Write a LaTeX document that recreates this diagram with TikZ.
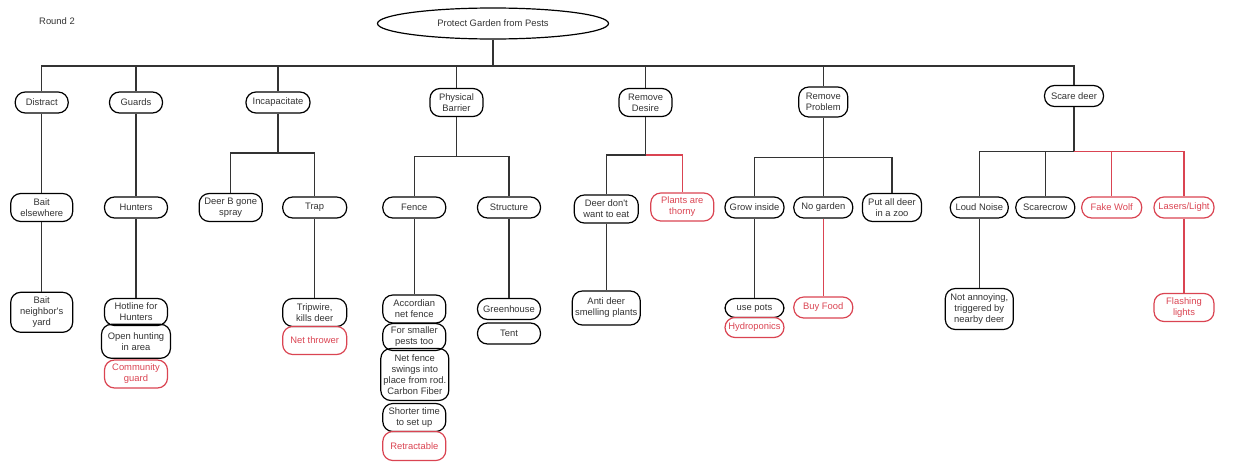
\documentclass[tikz,border=0pt]{standalone}
\usepackage{fontspec}
\usepackage{tikz}
\usetikzlibrary{shapes.geometric}
\newfontfamily\ideafont{Liberation Sans}
\definecolor{inktext}{RGB}{51,51,51}
\definecolor{newred}{RGB}{218,68,82}

\tikzset{
  idea/.style={draw=black, line width=1.2pt, rounded corners=10pt, align=center,
    inner sep=1pt, text=inktext, font=\ideafont\fontsize{9.4}{11}\selectfont},
  newidea/.style={idea, draw=newred, text=newred},
  link/.style={draw=inktext, line width=1.1pt},
  newlink/.style={draw=newred, line width=1.1pt}
}

\begin{document}
\begin{tikzpicture}[x=1pt, y=-1pt]
  \useasboundingbox (0,0) rectangle (1259,466);
  \node[font=\ideafont\fontsize{9.4}{11}\selectfont, text=inktext] (round) at (57,21) {Round 2};
  \node[idea, ellipse, rounded corners=0pt, minimum width=231, minimum height=31, inner sep=0pt] (root) at (493,23.5) {Protect Garden from Pests};

  % first level
  \node[idea, minimum width=53, minimum height=21] (distract) at (41.7,102.5) {Distract};
  \node[idea, minimum width=53, minimum height=21] (guards) at (136,102.5) {Guards};
  \node[idea, minimum width=64, minimum height=21] (incap) at (278,102.5) {Incapacitate};
  \node[idea, minimum width=53, minimum height=28] (barrier) at (456.5,102.5) {Physical\\Barrier};
  \node[idea, minimum width=53, minimum height=28] (desire) at (645.5,102.5) {Remove\\Desire};
  \node[idea, minimum width=49, minimum height=30] (problem) at (823.3,102) {Remove\\Problem};
  \node[idea, minimum width=59, minimum height=21] (scare) at (1074,96) {Scare deer};

  % second level
  \node[idea, minimum width=62, minimum height=28] (baitelse) at (41.7,207.5) {Bait\\elsewhere};
  \node[idea, minimum width=63, minimum height=21] (hunters) at (136,207.5) {Hunters};
  \node[idea, minimum width=63, minimum height=28] (deerb) at (230.7,207.5) {Deer B gone\\spray};
  \node[idea, minimum width=64, minimum height=21] (trap) at (314.7,207.5) {Trap};
  \node[idea, minimum width=63, minimum height=21] (fence) at (414.3,207.5) {Fence};
  \node[idea, minimum width=63, minimum height=21] (structure) at (509,207.5) {Structure};
  \node[idea, minimum width=64, minimum height=28] (noeat) at (606.3,209) {Deer don't\\want to eat};
  \node[newidea, minimum width=63, minimum height=28] (thorny) at (682.3,207) {Plants are\\thorny};
  \node[idea, minimum width=59, minimum height=21] (growin) at (754.5,207.5) {Grow inside};
  \node[idea, minimum width=59, minimum height=21] (nogarden) at (823.3,207.5) {No garden};
  \node[idea, minimum width=59, minimum height=28] (zoo) at (892,207.5) {Put all deer\\in a zoo};
  \node[idea, minimum width=58, minimum height=21] (loud) at (979.3,207.5) {Loud Noise};
  \node[idea, minimum width=59, minimum height=21] (scarecrow) at (1045.3,207.5) {Scarecrow};
  \node[newidea, minimum width=60, minimum height=21] (wolf) at (1111.7,207.5) {Fake Wolf};
  \node[newidea, minimum width=60, minimum height=21] (lasers) at (1184,207.5) {Lasers/Light};

  % third level
  \node[idea, minimum width=62, minimum height=40] (baityard) at (41.7,312.3) {Bait\\neighbor's\\yard};
  \node[idea, minimum width=63, minimum height=27] (hotline) at (136,312) {Hotline for\\Hunters};
  \node[idea, minimum width=69, minimum height=34] (openhunt) at (136,341.3) {Open hunting\\in area};
  \node[newidea, minimum width=63, minimum height=28] (community) at (136,374) {Community\\guard};
  \node[idea, minimum width=64, minimum height=28] (tripwire) at (314.7,312.5) {Tripwire,\\kills deer};
  \node[newidea, minimum width=64, minimum height=28] (netthrow) at (314.7,340.5) {Net thrower};
  \node[idea, minimum width=63, minimum height=28] (accordian) at (414.3,309) {Accordian\\net fence};
  \node[idea, minimum width=63, minimum height=27] (smaller) at (414.3,337) {For smaller\\pests too};
  \node[idea, minimum width=68, minimum height=52] (netswing) at (414.8,374.5) {Net fence\\swings into\\place from rod.\\Carbon Fiber};
  \node[idea, minimum width=63, minimum height=28] (shorter) at (414.3,417.5) {Shorter time\\to set up};
  \node[newidea, minimum width=63, minimum height=29] (retract) at (414.3,446) {Retractable};
  \node[idea, minimum width=63, minimum height=21] (greenhouse) at (509,309) {Greenhouse};
  \node[idea, minimum width=63, minimum height=21] (tent) at (509,333.5) {Tent};
  \node[idea, minimum width=68, minimum height=34] (antideer) at (606.3,308) {Anti deer\\smelling plants};
  \node[idea, minimum width=59, minimum height=19] (pots) at (754.5,308) {use pots};
  \node[newidea, minimum width=59, minimum height=20] (hydro) at (754.5,327.5) {Hydroponics};
  \node[newidea, minimum width=59, minimum height=21] (buyfood) at (823.3,307.5) {Buy Food};
  \node[idea, minimum width=68, minimum height=41] (notannoy) at (979.3,309) {Not annoying,\\triggered by\\nearby deer};
  \node[newidea, minimum width=60, minimum height=28] (flashing) at (1184,307.5) {Flashing\\lights};

  % buses
  \coordinate (bus) at (493,66);
  \coordinate (incbus) at (278,153);
  \coordinate (barbus) at (456.5,156.7);
  \coordinate (desbus) at (645.5,155);
  \coordinate (probbus) at (823.3,157.3);
  \coordinate (scarebus) at (1074,151.7);

  \draw[link] (root.south) -- (bus);
  \foreach \kid in {distract,guards,incap,barrier,desire,problem,scare}
    \draw[link] (bus) -| (\kid.north);

  \draw[link] (distract.south) -- (baitelse.north);
  \draw[link] (baitelse.south) -- (baityard.north);
  \draw[link] (guards.south) -- (hunters.north);
  \draw[link] (hunters.south) -- (hotline.north);

  \draw[link] (incap.south) -- (incbus);
  \draw[link] (incbus) -| (deerb.north);
  \draw[link] (incbus) -| (trap.north);
  \draw[link] (trap.south) -- (tripwire.north);

  \draw[link] (barrier.south) -- (barbus);
  \draw[link] (barbus) -| (fence.north);
  \draw[link] (barbus) -| (structure.north);
  \draw[link] (fence.south) -- (accordian.north);
  \draw[link] (structure.south) -- (greenhouse.north);

  \draw[link] (desire.south) -- (desbus);
  \draw[link] (desbus) -| (noeat.north);
  \draw[newlink] (desbus) -| (thorny.north);
  \draw[link] (noeat.south) -- (antideer.north);

  \draw[link] (problem.south) -- (probbus);
  \draw[link] (probbus) -| (growin.north);
  \draw[link] (probbus) -- (nogarden.north);
  \draw[link] (probbus) -| (zoo.north);
  \draw[link] (growin.south) -- (pots.north);
  \draw[newlink] (nogarden.south) -- (buyfood.north);

  \draw[link] (scare.south) -- (scarebus);
  \draw[link] (scarebus) -| (loud.north);
  \draw[link] (scarebus) -| (scarecrow.north);
  \draw[newlink] (scarebus) -| (wolf.north);
  \draw[newlink] (scarebus) -| (lasers.north);
  \draw[link] (loud.south) -- (notannoy.north);
  \draw[newlink] (lasers.south) -- (flashing.north);
\end{tikzpicture}
\end{document}
